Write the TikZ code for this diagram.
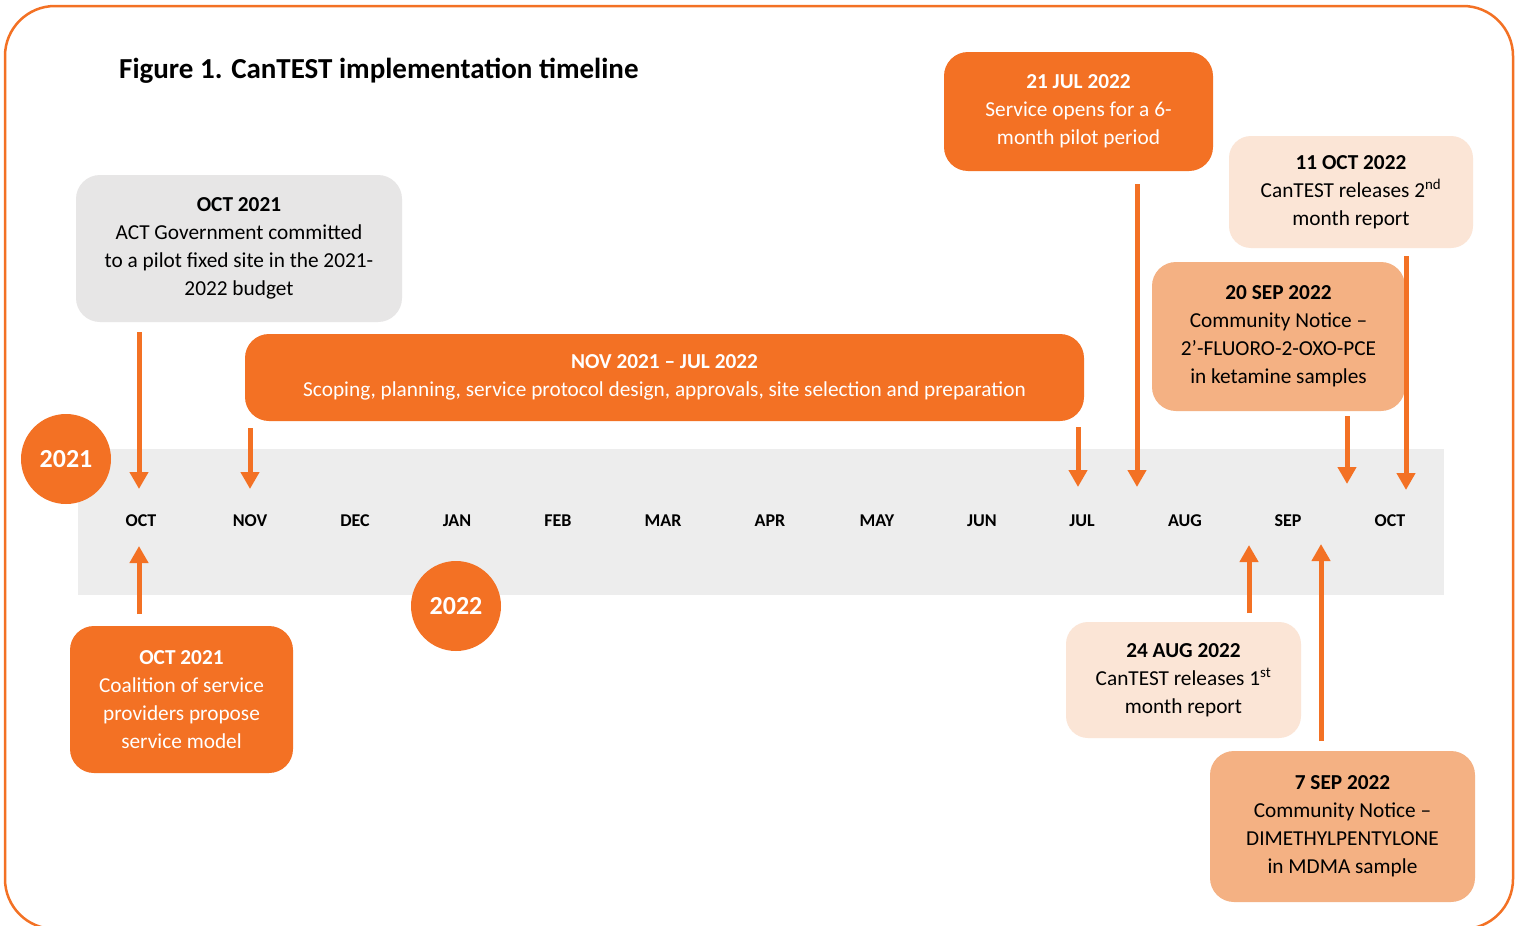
\documentclass[tikz,border=0pt]{standalone}
\usepackage{fontspec}
\setmainfont{Carlito}
\usetikzlibrary{arrows.meta}
\definecolor{cOrange}{HTML}{F37124}
\definecolor{cPeach}{HTML}{F4B183}
\definecolor{cLight}{HTML}{FBE5D6}
\definecolor{cGrayBox}{HTML}{E7E6E6}
\definecolor{cBand}{HTML}{EDEDED}
\tikzset{
  px/.style={x=1pt,y=-1pt},
  evbox/.style={rounded corners=24pt, draw=none, align=center, inner sep=0pt,
    font=\fontsize{21.3}{28}\selectfont},
  orangebox/.style={evbox, fill=cOrange, text=white},
  peachbox/.style={evbox, fill=cPeach, text=black},
  lightbox/.style={evbox, fill=cLight, text=black},
  graybox/.style={evbox, fill=cGrayBox, text=black},
  month/.style={font=\fontsize{18}{20}\selectfont\bfseries, inner sep=0pt},
  yearcircle/.style={circle, fill=cOrange, text=white, minimum size=90pt, inner sep=0pt,
    font=\fontsize{26}{30}\selectfont\bfseries},
  tarrow/.style={draw=cOrange, line width=5pt, -{Triangle[width=18pt,length=17pt]}},
}
\begin{document}
\begin{tikzpicture}[px]
\useasboundingbox (0,0) rectangle (1521,926);
\fill[white] (0,0) rectangle (1521,926);
% outer frame
\draw[cOrange, line width=2.5pt, rounded corners=50pt] (5,6) rectangle (1513,929);
% title
\node[anchor=west, font=\fontsize{29}{32}\selectfont\bfseries, inner sep=0pt] (title) at (119,71) {Figure 1. CanTEST implementation timeline};
% band
\fill[cBand] (78,449) rectangle (1444,595);
% months
\node[month] (m1) at (141,521) {OCT};
\node[month] (m2) at (250,521) {NOV};
\node[month] (m3) at (355,521) {DEC};
\node[month] (m4) at (457,521) {JAN};
\node[month] (m5) at (558,521) {FEB};
\node[month] (m6) at (663,521) {MAR};
\node[month] (m7) at (770,521) {APR};
\node[month] (m8) at (877,521) {MAY};
\node[month] (m9) at (982,521) {JUN};
\node[month] (m10) at (1082,521) {JUL};
\node[month] (m11) at (1185,521) {AUG};
\node[month] (m12) at (1288,521) {SEP};
\node[month] (m13) at (1390,521) {OCT};
% year circles
\node[yearcircle] (y2021) at (66,459) {2021};
\node[yearcircle] (y2022) at (456,606) {2022};
% boxes
\node[graybox, minimum width=326pt, minimum height=147pt] (b1) at (239,248.5)
  {\textbf{OCT 2021}\\ACT Government committed\\to a pilot fixed site in the 2021-\\2022 budget};
\node[orangebox, minimum width=839pt, minimum height=87pt] (b2) at (664.5,377.5)
  {\textbf{NOV 2021 – JUL 2022}\\Scoping, planning, service protocol design, approvals, site selection and preparation};
\node[orangebox, minimum width=269pt, minimum height=119pt] (b3) at (1078.5,111.5)
  {\textbf{21 JUL 2022}\\Service opens for a 6-\\month pilot period};
\node[lightbox, minimum width=244pt, minimum height=112pt, rounded corners=22pt] (b4) at (1351,192)
  {\textbf{11 OCT 2022}\\CanTEST releases 2\textsuperscript{nd}\\month report};
\node[peachbox, minimum width=253pt, minimum height=149pt] (b5) at (1278.5,336.5)
  {\textbf{20 SEP 2022}\\Community Notice –\\2’-FLUORO-2-OXO-PCE\\in ketamine samples};
\node[orangebox, minimum width=223pt, minimum height=147pt] (b6) at (181.5,699.5)
  {\textbf{OCT 2021}\\Coalition of service\\providers propose\\service model};
\node[lightbox, minimum width=235pt, minimum height=116pt, rounded corners=22pt] (b7) at (1183.5,680)
  {\textbf{24 AUG 2022}\\CanTEST releases 1\textsuperscript{st}\\month report};
\node[peachbox, minimum width=265pt, minimum height=151pt] (b8) at (1342.5,826.5)
  {\textbf{7 SEP 2022}\\Community Notice –\\DIMETHYLPENTYLONE\\in MDMA sample};
% arrow end points
\coordinate (s1) at (139,332); \coordinate (e1) at (139,489);
\coordinate (s2) at (250,428); \coordinate (e2) at (250,489);
\coordinate (s3) at (1078,427); \coordinate (e3) at (1078,487);
\coordinate (s4) at (1137,184); \coordinate (e4) at (1137,487);
\coordinate (s5) at (1347,416); \coordinate (e5) at (1347,484);
\coordinate (s6) at (1406,256); \coordinate (e6) at (1406,490);
\coordinate (s7) at (139,614); \coordinate (e7) at (139,546);
\coordinate (s8) at (1249,613); \coordinate (e8) at (1249,545);
\coordinate (s9) at (1321,741); \coordinate (e9) at (1321,544);
\draw[tarrow] (s1) -- (e1);
\draw[tarrow] (s2) -- (e2);
\draw[tarrow] (s3) -- (e3);
\draw[tarrow] (s4) -- (e4);
\draw[tarrow] (s5) -- (e5);
\draw[tarrow] (s6) -- (e6);
\draw[tarrow] (s7) -- (e7);
\draw[tarrow] (s8) -- (e8);
\draw[tarrow] (s9) -- (e9);
\end{tikzpicture}
\end{document}
